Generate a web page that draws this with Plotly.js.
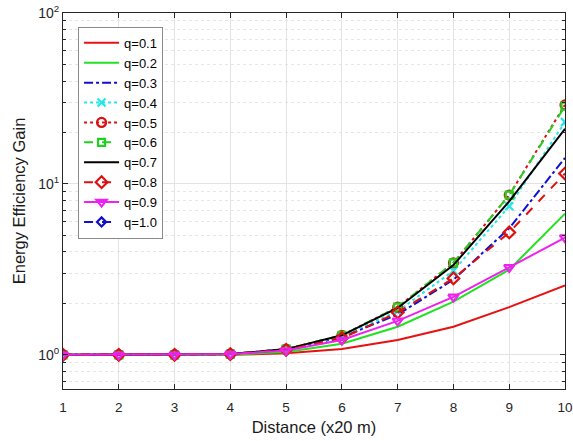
<!DOCTYPE html>
<html>
<head>
<meta charset="utf-8">
<script src="https://cdn.plot.ly/plotly-3.0.1.min.js"></script>
<style>html,body{margin:0;padding:0;background:#fff;}#chart{width:573px;height:441px;}</style>
</head>
<body>
<div id="chart"></div>
<script>
const distance = [1, 2, 3, 4, 5, 6, 7, 8, 9, 10];
const q01 = [1, 1, 1, 1.0, 1.02, 1.08, 1.22, 1.46, 1.9, 2.55];
const q02 = [1, 1, 1, 1.0, 1.04, 1.16, 1.46, 2.05, 3.15, 6.7];
const q03 = [1, 1, 1, 1.01, 1.07, 1.27, 1.72, 2.75, 5.5, 14.2];
const q04 = [1, 1, 1, 1.01, 1.08, 1.29, 1.8, 3.1, 7.4, 23];
const q05 = [1, 1, 1, 1.01, 1.08, 1.3, 1.9, 3.45, 8.6, 29];
const q06 = [1, 1, 1, 1.01, 1.08, 1.3, 1.9, 3.45, 8.6, 28.5];
const q07 = [1, 1, 1, 1.01, 1.08, 1.3, 1.88, 3.35, 7.9, 21];
const q08 = [1, 1, 1, 1.01, 1.07, 1.25, 1.77, 2.8, 5.2, 11.5];
const q09 = [1, 1, 1, 1.01, 1.06, 1.22, 1.58, 2.18, 3.25, 4.85];
const q10 = [1, null, null, null, null, null, null, null, null, null];
const seriesNames = ['q=0.1','q=0.2','q=0.3','q=0.4','q=0.5','q=0.6','q=0.7','q=0.8','q=0.9','q=1.0'];
const yTickVals = [1, 10, 100];
const yTickText = ['10<sup>0</sup>', '10<sup>1</sup>', '10<sup>2</sup>'];
const yMinorVals = [0.7,0.8,0.9,2,3,4,5,6,7,8,9,20,30,40,50,60,70,80,90];

const styles = [
  {color:'#e81010', dash:'solid', mode:'lines'},
  {color:'#22e022', dash:'solid', mode:'lines'},
  {color:'#1010d0', dash:'dashdot', mode:'lines'},
  {color:'#20e8e8', dash:'dot', mode:'lines+markers', symbol:'x-thin-open', size:8},
  {color:'#dd1010', dash:'dot', mode:'lines+markers', symbol:'circle-open', size:9},
  {color:'#22d022', dash:'dash', mode:'lines+markers', symbol:'square-open', size:7},
  {color:'#000000', dash:'solid', mode:'lines'},
  {color:'#dd1010', dash:'dash', mode:'lines+markers', symbol:'diamond-open', size:9},
  {color:'#ee22ee', dash:'solid', mode:'lines+markers', symbol:'triangle-down-open', size:9},
  {color:'#1010c8', dash:'dash', mode:'lines+markers', symbol:'diamond-open', size:7}
];
const allY = [q01,q02,q03,q04,q05,q06,q07,q08,q09,q10];
const built = allY.map((ys, i) => {
  const s = styles[i];
  const t = {
    x: distance, y: ys, name: seriesNames[i], type: 'scatter', mode: s.mode,
    legendrank: i + 1,
    line: {color: s.color, width: 2, dash: s.dash}
  };
  if (s.symbol) t.marker = {symbol: s.symbol, size: s.size, color: s.color, line: {color: s.color, width: 2.2}};
  return t;
});
// draw q=1.0 first (it sits underneath the other curves)
const traces = [built[9]].concat(built.slice(0, 9));

const axisColor = '#262626';
const layout = {
  width: 573, height: 441,
  margin: {l: 63, r: 8, t: 13, b: 52},
  paper_bgcolor: '#fff', plot_bgcolor: '#fff',
  font: {family: 'Arial, "Liberation Sans", sans-serif', size: 13.5, color: axisColor},
  showlegend: true,
  legend: {
    x: 0.03, y: 0.963, xanchor: 'left', yanchor: 'top',
    bgcolor: '#fff', bordercolor: '#8a8a8a', borderwidth: 1,
    font: {size: 13, color: '#000'}, itemwidth: 35, tracegroupgap: 0
  },
  xaxis: {
    range: [1, 10], dtick: 1, tick0: 1,
    showline: true, linecolor: axisColor, linewidth: 1, mirror: 'ticks',
    ticks: 'inside', ticklen: 5, tickcolor: axisColor,
    showgrid: true, gridcolor: '#e3e3e3', gridwidth: 1, zeroline: false,
    ticklabelstandoff: 6,
    title: {text: 'Distance (x20 m)', font: {size: 16.5, color: '#1a1a1a'}, standoff: 7}
  },
  yaxis: {
    type: 'log', range: [-0.2, 2],
    tickmode: 'array', tickvals: yTickVals, ticktext: yTickText,
    tickfont: {size: 14},
    showline: true, linecolor: axisColor, linewidth: 1, mirror: 'ticks',
    ticks: 'inside', ticklen: 5, tickcolor: axisColor,
    showgrid: true, gridcolor: '#e3e3e3', gridwidth: 1, zeroline: false,
    minor: {tickmode: 'array', tickvals: yMinorVals, ticks: 'inside', ticklen: 3, tickcolor: axisColor,
            showgrid: true, gridcolor: '#e6e6e6', griddash: 'dot', gridwidth: 1},
    title: {text: 'Energy Efficiency Gain', font: {size: 16.5, color: '#1a1a1a'}, standoff: 8}
  }
};
Plotly.newPlot('chart', traces, layout, {displayModeBar: false, staticPlot: true});
</script>
</body>
</html>
